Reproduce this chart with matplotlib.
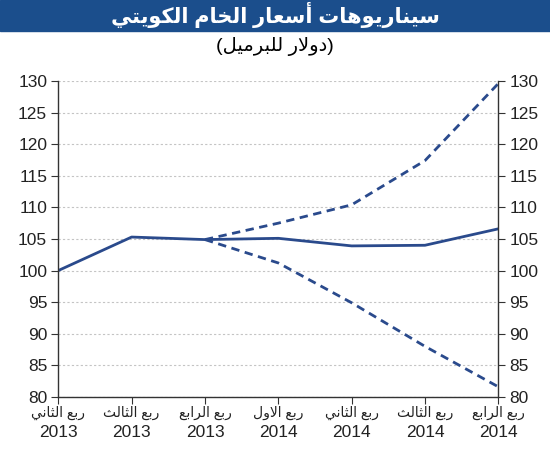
import matplotlib
matplotlib.use("Agg")
import matplotlib.pyplot as plt
from matplotlib.patches import Rectangle

# --- data ---
quarters = ["ربع الثاني", "ربع الثالث", "ربع الرابع", "ربع الاول",
            "ربع الثاني", "ربع الثالث", "ربع الرابع"]
years = ["2013", "2013", "2013", "2014", "2014", "2014", "2014"]
base = [100.0, 105.3, 104.9, 105.1, 103.9, 104.0, 106.6]
high = [None, None, 104.9, 107.5, 110.4, 117.4, 129.6]
low = [None, None, 104.9, 101.2, 94.9, 88.0, 81.6]

title = "سيناريوهات أسعار الخام الكويتي"
subtitle = "(دولار للبرميل)"

# --- minimal Arabic shaping (matplotlib has no text shaping) ---
FORMS = {
    "ا": (0xFE8D, 0xFE8E, None, None),
    "أ": (0xFE83, 0xFE84, None, None),
    "ب": (0xFE8F, 0xFE90, 0xFE91, 0xFE92),
    "ت": (0xFE95, 0xFE96, 0xFE97, 0xFE98),
    "ث": (0xFE99, 0xFE9A, 0xFE9B, 0xFE9C),
    "خ": (0xFEA5, 0xFEA6, 0xFEA7, 0xFEA8),
    "د": (0xFEA9, 0xFEAA, None, None),
    "ر": (0xFEAD, 0xFEAE, None, None),
    "س": (0xFEB1, 0xFEB2, 0xFEB3, 0xFEB4),
    "ع": (0xFEC9, 0xFECA, 0xFECB, 0xFECC),
    "ك": (0xFED9, 0xFEDA, 0xFEDB, 0xFEDC),
    "ل": (0xFEDD, 0xFEDE, 0xFEDF, 0xFEE0),
    "م": (0xFEE1, 0xFEE2, 0xFEE3, 0xFEE4),
    "ن": (0xFEE5, 0xFEE6, 0xFEE7, 0xFEE8),
    "ه": (0xFEE9, 0xFEEA, 0xFEEB, 0xFEEC),
    "و": (0xFEED, 0xFEEE, None, None),
    "ي": (0xFEF1, 0xFEF2, 0xFEF3, 0xFEF4),
    "لا": (0xFEFB, 0xFEFC, None, None),
    "لأ": (0xFEF7, 0xFEF8, None, None),
}


def shape(text):
    tokens = []
    i = 0
    while i < len(text):
        if text[i] == "ل" and i + 1 < len(text) and text[i + 1] in "اأ":
            tokens.append(text[i:i + 2])
            i += 2
        else:
            tokens.append(text[i])
            i += 1
    out = []
    for k, t in enumerate(tokens):
        if t not in FORMS:
            out.append(t)
            continue
        prev = tokens[k - 1] if k > 0 else None
        nxt = tokens[k + 1] if k + 1 < len(tokens) else None
        pj = prev in FORMS and FORMS[prev][2] is not None
        nj = FORMS[t][2] is not None and nxt in FORMS
        iso, fin, ini, med = FORMS[t]
        if pj and nj:
            c = med
        elif pj:
            c = fin
        elif nj:
            c = ini
        else:
            c = iso
        out.append(chr(c))
    s = "".join(reversed(out))
    return s.translate(str.maketrans("()", ")("))


plt.rcParams["font.family"] = ["Liberation Sans", "DejaVu Sans"]

color = "#2a4a8c"
x = list(range(len(base)))

fig = plt.figure(figsize=(5.5, 4.5), dpi=100)
ax = fig.add_axes([0.106, 0.118, 0.8, 0.702])

ax.plot(x, base, color=color, lw=2, solid_capstyle="round")
xs = [i for i, v in enumerate(high) if v is not None]
ax.plot(xs, [high[i] for i in xs], color=color, lw=2, ls=(0, (3, 2)))
ax.plot(xs, [low[i] for i in xs], color=color, lw=2, ls=(0, (3, 2)))

ax.set_xlim(0, len(base) - 1)
ax.set_ylim(80, 130)
ax.set_yticks(range(80, 131, 5))
ax.set_xticks(x)
ax.set_xticklabels(years, fontsize=12.5)
ax.tick_params(axis="y", labelsize=12.5, right=True, labelright=True,
               direction="out", length=5, color="#333333", pad=3,
               labelcolor="#222222")
ax.tick_params(axis="x", direction="out", length=5, color="#333333",
               pad=15, labelcolor="#222222")
for xi, q in zip(x, quarters):
    ax.text(xi, -0.05, shape(q), transform=ax.get_xaxis_transform(),
            ha="center", va="center", fontsize=10, color="#222222")

ax.grid(axis="y", color="#c4c4c4", ls=(0, (2, 2)), lw=0.8)
ax.set_axisbelow(True)
ax.spines["top"].set_visible(False)
for s in ["left", "right", "bottom"]:
    ax.spines[s].set_color("#333333")
    ax.spines[s].set_linewidth(1)

# title band
fig.patches.append(Rectangle((0, 1 - 31 / 450), 1, 31 / 450,
                             transform=fig.transFigure, color="#1b4e8c",
                             zorder=0))
fig.text(0.5, 1 - 15 / 450, shape(title), color="white", fontsize=15,
         fontweight="bold", ha="center", va="center")
fig.text(0.5, 1 - 46 / 450, shape(subtitle), color="black", fontsize=14,
         ha="center", va="center")

fig.savefig("out.png", dpi=100)
